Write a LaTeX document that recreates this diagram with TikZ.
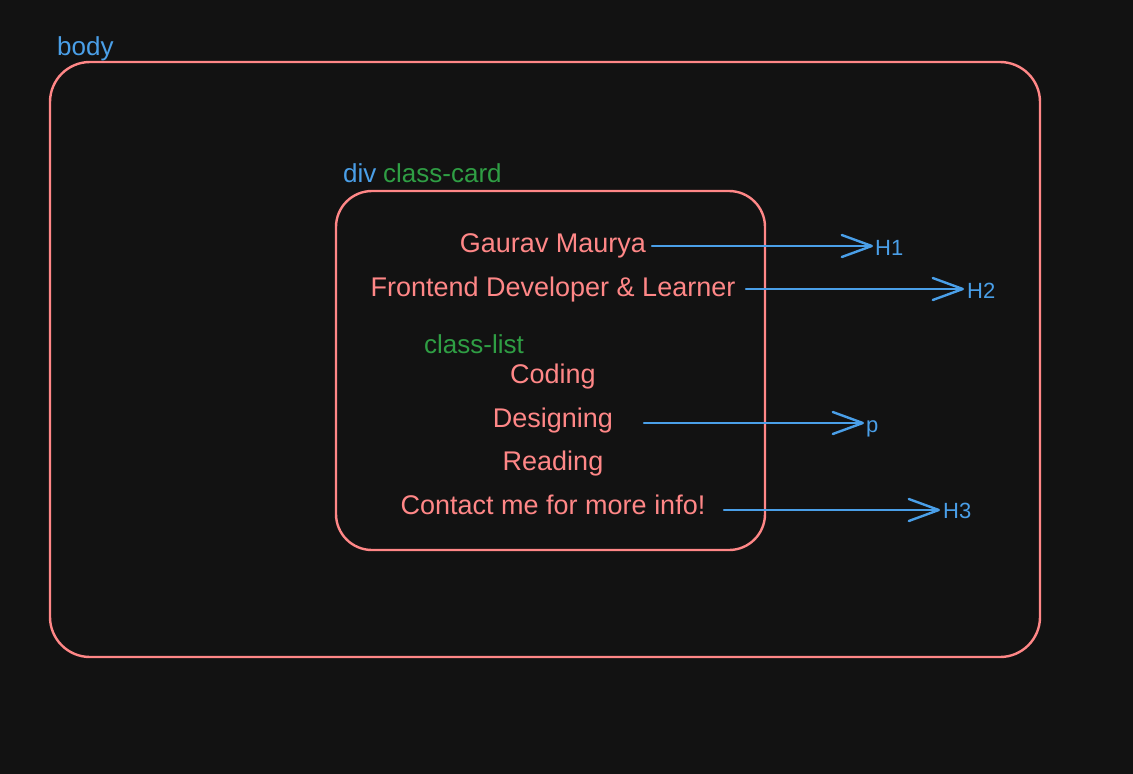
\documentclass[tikz,border=0pt]{standalone}
\usepackage{fontspec}
\setmainfont{Liberation Sans}
\usetikzlibrary{arrows.meta}
\definecolor{bg}{HTML}{121212}
\definecolor{boxred}{HTML}{FF8787}
\definecolor{tagblue}{HTML}{4A9FE8}
\definecolor{clsgreen}{HTML}{2F9E44}
\tikzset{
  frame/.style={draw=boxred, line width=2.4pt},
  item/.style={text=boxred, font=\fontsize{27}{31}\selectfont, inner sep=0pt, anchor=base},
  tag/.style={text=tagblue, font=\fontsize{26}{30}\selectfont, inner sep=0pt, anchor=base west},
  cls/.style={text=clsgreen, font=\fontsize{26}{30}\selectfont, inner sep=0pt, anchor=base west},
  htag/.style={text=tagblue, font=\fontsize{22}{26}\selectfont, inner sep=0pt, anchor=base west},
  link/.style={draw=tagblue, line width=2.4pt, line cap=round, -{Straight Barb[length=30pt,width=22pt,line width=2.4pt,round]}}
}
\begin{document}
\begin{tikzpicture}[x=1pt,y=-1pt]
\fill[bg] (0,0) rectangle (1133,774);
\useasboundingbox (0,0) rectangle (1133,774);
% boxes
\draw[frame, rounded corners=40pt] (50,62) rectangle (1040,657);
\draw[frame, rounded corners=36pt] (336,191) rectangle (765,550);
% labels
\node[tag] (body) at (57,55) {body};
\node[tag] (div) at (343,182) {div};
\node[cls] (card) at (383,182) {class-card};
\node[cls] (list) at (424,353) {class-list};
% items
\node[item] (name) at (553,252) {Gaurav Maurya};
\node[item] (role) at (553,296) {Frontend Developer \& Learner};
\node[item] (coding) at (553,383) {Coding};
\node[item] (design) at (553,427) {Designing};
\node[item] (read) at (553,470) {Reading};
\node[item] (contact) at (553,514) {Contact me for more info!};
% tags
\node[htag] (h1) at (875,255) {H1};
\node[htag] (h2) at (967,298) {H2};
\node[htag] (p) at (866,432) {p};
\node[htag] (h3) at (943,518) {H3};
% arrows
\coordinate (s1) at (652,246);
\coordinate (s2) at (746,289);
\coordinate (s3) at (644,423);
\coordinate (s4) at (724,510);
\coordinate (e1) at (873,246);
\coordinate (e2) at (964,289);
\coordinate (e3) at (864,423);
\coordinate (e4) at (940,510);
\draw[link] (s1) -- (e1);
\draw[link] (s2) -- (e2);
\draw[link] (s3) -- (e3);
\draw[link] (s4) -- (e4);
\end{tikzpicture}
\end{document}
